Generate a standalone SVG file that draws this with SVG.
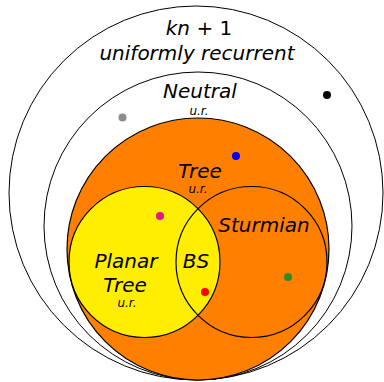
<svg xmlns="http://www.w3.org/2000/svg" width="384" height="382" viewBox="0 0 384 382">
<style>
.ring{fill:none;stroke:#000;stroke-width:1}
.venn{stroke:#000;stroke-width:1.2}
.lbl{font-family:"DejaVu Sans",sans-serif;font-style:italic;font-size:20px;text-anchor:middle;fill:#000}
.ur{font-family:"DejaVu Sans",sans-serif;font-style:italic;font-size:12px;text-anchor:middle;fill:#000}
</style>
<rect width="384" height="382" fill="#fff"/>
<g id="kn1">
<circle class="ring" cx="196" cy="193" r="187"/>
<text class="lbl" x="199" y="35">kn<tspan font-style="normal"> + 1</tspan></text>
<text class="lbl" x="197" y="60">uniformly recurrent</text>
</g>
<g id="neutral">
<circle class="ring" cx="198" cy="226" r="154"/>
<text class="lbl" x="200" y="98">Neutral</text>
<text class="ur" x="199" y="115">u.r.</text>
</g>
<g id="tree">
<circle class="venn" cx="198" cy="249" r="131" fill="#ff8000"/>
<text class="lbl" x="200" y="178">Tree</text>
<text class="ur" x="198" y="193">u.r.</text>
</g>
<g id="planar">
<circle class="venn" cx="144.5" cy="262" r="75.5" fill="#ffee00"/>
<text class="lbl" x="126" y="268">Planar</text>
<text class="lbl" x="125" y="292">Tree</text>
<text class="ur" x="127" y="307">u.r.</text>
</g>
<g id="sturmian">
<circle class="venn" cx="251.5" cy="262" r="75.5" fill="none"/>
<text class="lbl" x="264" y="232">Sturmian</text>
</g>
<g id="bs">
<text class="lbl" x="196" y="268">BS</text>
</g>
<g id="dots">
<circle cx="327" cy="95" r="4" fill="#000"/>
<circle cx="122.5" cy="117.5" r="4" fill="#8c8c8c"/>
<circle cx="236" cy="156" r="4" fill="#0000ff"/>
<circle cx="160" cy="216" r="4" fill="#e6158c"/>
<circle cx="205" cy="292" r="4" fill="#ff0000"/>
<circle cx="288" cy="277" r="4" fill="#2a8c2a"/>
</g>
</svg>
